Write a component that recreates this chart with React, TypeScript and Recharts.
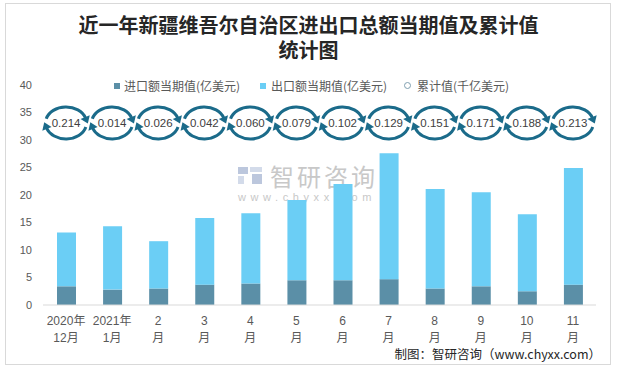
import React from "react";
import { ComposedChart, Bar, Line, XAxis, YAxis } from "recharts";

const categories = ["2020年12月", "2021年1月", "2月", "3月", "4月", "5月", "6月", "7月", "8月", "9月", "10月", "11月"];
const tickTop = ["2020年", "2021年", "2", "3", "4", "5", "6", "7", "8", "9", "10", "11"];
const tickBottom = ["12月", "1月", "月", "月", "月", "月", "月", "月", "月", "月", "月", "月"];
const importValues = [3.4, 2.8, 3.0, 3.7, 3.9, 4.5, 4.5, 4.7, 3.0, 3.4, 2.5, 3.7];
const exportValues = [9.8, 11.5, 8.6, 12.1, 12.8, 14.6, 17.5, 22.9, 18.1, 17.1, 14.0, 21.2];
const cumulativeValues = [0.214, 0.014, 0.026, 0.042, 0.06, 0.079, 0.102, 0.129, 0.151, 0.171, 0.188, 0.213];
const yTicks = [0, 5, 10, 15, 20, 25, 30, 35, 40];

// rings sit in one row, at this height of the left axis
const RING_LEVEL = 33.1;

const IMPORT_COLOR = "#5b8fa7";
const EXPORT_COLOR = "#6bcef5";
const RING_COLOR = "#1b6b8a";
const TEXT = "#595959";
const FONT = '"Liberation Sans", "Noto Sans CJK SC", sans-serif';
const CJK = '"Noto Sans CJK SC", sans-serif';

const data = categories.map((name, i) => ({
  name,
  imp: importValues[i],
  exp: exportValues[i],
  cum: cumulativeValues[i],
  ring: RING_LEVEL,
}));

const RX = 20.5;
const RY = 16;

function pt(cx: number, cy: number, deg: number) {
  const t = (deg * Math.PI) / 180;
  return [cx + RX * Math.cos(t), cy - RY * Math.sin(t)];
}

function arrowHead(cx: number, cy: number, deg: number) {
  const t = (deg * Math.PI) / 180;
  const [ex, ey] = pt(cx, cy, deg);
  let dx = RX * Math.sin(t);
  let dy = RY * Math.cos(t);
  const len = Math.hypot(dx, dy);
  dx /= len;
  dy /= len;
  const nx = -dy;
  const ny = dx;
  const tip = [ex + dx * 6, ey + dy * 6];
  const b1 = [ex - dx * 1 + nx * 5, ey - dy * 1 + ny * 5];
  const b2 = [ex - dx * 1 - nx * 5, ey - dy * 1 - ny * 5];
  return `M${tip[0]},${tip[1]} L${b1[0]},${b1[1]} L${b2[0]},${b2[1]} Z`;
}

function Ring(props: any) {
  const { cx, cy, index } = props;
  if (cx == null || cy == null) return null;
  const a1 = pt(cx, cy, 165);
  const a2 = pt(cx, cy, 18);
  const b1 = pt(cx, cy, -15);
  const b2 = pt(cx, cy, 198);
  return (
    <g key={`ring-${index}`}>
      <path d={`M${a1[0]},${a1[1]} A${RX},${RY} 0 0 1 ${a2[0]},${a2[1]}`} fill="none" stroke={RING_COLOR} strokeWidth={3} />
      <path d={arrowHead(cx, cy, 18)} fill={RING_COLOR} />
      <path d={`M${b1[0]},${b1[1]} A${RX},${RY} 0 0 1 ${b2[0]},${b2[1]}`} fill="none" stroke={RING_COLOR} strokeWidth={3} />
      <path d={arrowHead(cx, cy, 198)} fill={RING_COLOR} />
      <text x={cx} y={cy + 4} textAnchor="middle" fontSize={11.5} fill="#404040" fontFamily={FONT}>
        {cumulativeValues[index].toFixed(3)}
      </text>
    </g>
  );
}

function MonthTick(props: any) {
  const { x, y, payload } = props;
  const i = categories.indexOf(payload.value);
  return (
    <text x={x} y={y} textAnchor="middle" fontSize={12} fill={TEXT} fontFamily={FONT}>
      <tspan x={x} dy={12}>{tickTop[i]}</tspan>
      <tspan x={x} dy={17}>{tickBottom[i]}</tspan>
    </text>
  );
}

const titleStyle: React.CSSProperties = {
  position: "absolute",
  left: 0,
  width: 617,
  textAlign: "center",
  fontFamily: CJK,
  fontWeight: 700,
  fontSize: 20,
  lineHeight: "22px",
  color: "#262626",
  whiteSpace: "nowrap",
};

export default function App() {
  return (
    <div style={{ position: "absolute", left: 0, top: 0, width: 617, height: 368, background: "#fff", overflow: "hidden" }}>
      <div style={{ position: "absolute", left: 5, top: 3, width: 604, height: 360, border: "1px solid #d9d9d9" }} />

      {/* watermark, under the bars */}
      <div style={{ position: "absolute", left: 238, top: 167, width: 10, height: 7, background: "#bcc7dd" }} />
      <div style={{ position: "absolute", left: 238, top: 176, width: 6, height: 8, background: "#d3dbea" }} />
      <div style={{ position: "absolute", left: 250, top: 167, width: 12, height: 5, background: "#d3dbea" }} />
      <div style={{ position: "absolute", left: 252, top: 174, width: 10, height: 10, background: "#bcc7dd" }} />
      <div style={{ position: "absolute", left: 270, top: 164, fontFamily: CJK, fontSize: 24, letterSpacing: 3, color: "#c8c8c8", lineHeight: "24px", whiteSpace: "nowrap" }}>
        智研咨询
      </div>
      <div style={{ position: "absolute", left: 238, top: 191, fontFamily: FONT, fontSize: 11, letterSpacing: 4.6, color: "#c8c8c8", lineHeight: "12px", whiteSpace: "nowrap" }}>
        www.chyxx.com
      </div>

      <div style={{ position: "absolute", left: 0, top: 0 }}>
        <ComposedChart width={617} height={368} data={data} margin={{ top: 85, right: 21, bottom: 23, left: 0 }}>
          <XAxis dataKey="name" interval={0} height={40} axisLine={{ stroke: "#d9d9d9" }} tickLine={false} tick={<MonthTick />} />
          <YAxis width={43} domain={[0, 40]} ticks={yTicks} axisLine={false} tickLine={false} tickMargin={5} tick={{ fill: TEXT, fontSize: 11, fontFamily: FONT }} />
          <Bar dataKey="imp" stackId="a" fill={IMPORT_COLOR} barSize={19} isAnimationActive={false} />
          <Bar dataKey="exp" stackId="a" fill={EXPORT_COLOR} barSize={19} isAnimationActive={false} />
          <Line dataKey="ring" stroke="none" dot={Ring} activeDot={false} isAnimationActive={false} />
        </ComposedChart>
      </div>

      <div style={{ ...titleStyle, top: 14 }}>近一年新疆维吾尔自治区进出口总额当期值及累计值</div>
      <div style={{ ...titleStyle, top: 39 }}>统计图</div>

      <div style={{ position: "absolute", left: 0, top: 78, width: 617, height: 16, fontFamily: CJK, fontSize: 12, color: TEXT, lineHeight: "16px" }}>
        <span style={{ position: "absolute", left: 114, top: 5, width: 6, height: 6, background: IMPORT_COLOR }} />
        <span style={{ position: "absolute", left: 124, top: 0, whiteSpace: "nowrap" }}>进口额当期值(亿美元)</span>
        <span style={{ position: "absolute", left: 260, top: 5, width: 6, height: 6, background: EXPORT_COLOR }} />
        <span style={{ position: "absolute", left: 271, top: 0, whiteSpace: "nowrap" }}>出口额当期值(亿美元)</span>
        <span style={{ position: "absolute", left: 404, top: 4, width: 5, height: 5, border: "1px solid #7f9fb0", borderRadius: "50%" }} />
        <span style={{ position: "absolute", left: 417, top: 0, whiteSpace: "nowrap" }}>累计值(千亿美元)</span>
      </div>

      <div style={{ position: "absolute", right: 16, top: 346, fontFamily: CJK, fontSize: 12.5, color: "#262626", lineHeight: "16px", whiteSpace: "nowrap" }}>
        制图：智研咨询（www.chyxx.com）
      </div>
    </div>
  );
}
